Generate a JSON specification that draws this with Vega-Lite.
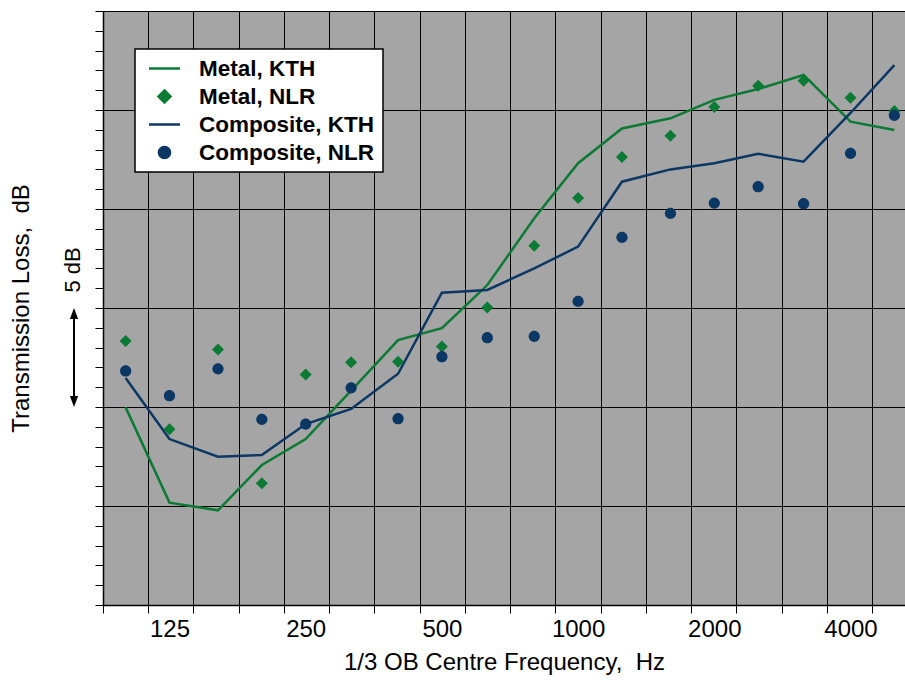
{
  "$schema": "https://vega.github.io/schema/vega-lite/v6.json",
  "width": 802,
  "height": 594,
  "autosize": "none",
  "padding": {"left": 103, "top": 11, "right": 0, "bottom": 79},
  "background": "white",
  "config": {
    "view": {"fill": "#a6a5a6", "stroke": null},
    "font": "Liberation Sans",
    "axis": {"labelFont": "Liberation Sans", "titleFont": "Liberation Sans", "labelColor": "black", "titleColor": "black", "titleFontWeight": "normal"}
  },
  "datasets": {
    "tl": [
      {"freq": 100, "series": "Metal, KTH", "tl": 9.98},
      {"freq": 125, "series": "Metal, KTH", "tl": 5.17},
      {"freq": 160, "series": "Metal, KTH", "tl": 4.78},
      {"freq": 200, "series": "Metal, KTH", "tl": 7.07},
      {"freq": 250, "series": "Metal, KTH", "tl": 8.38},
      {"freq": 315, "series": "Metal, KTH", "tl": 10.83},
      {"freq": 400, "series": "Metal, KTH", "tl": 13.38},
      {"freq": 500, "series": "Metal, KTH", "tl": 13.98},
      {"freq": 630, "series": "Metal, KTH", "tl": 16.16},
      {"freq": 800, "series": "Metal, KTH", "tl": 19.53},
      {"freq": 1000, "series": "Metal, KTH", "tl": 22.31},
      {"freq": 1250, "series": "Metal, KTH", "tl": 24.07},
      {"freq": 1600, "series": "Metal, KTH", "tl": 24.58},
      {"freq": 2000, "series": "Metal, KTH", "tl": 25.51},
      {"freq": 2500, "series": "Metal, KTH", "tl": 26.06},
      {"freq": 3150, "series": "Metal, KTH", "tl": 26.77},
      {"freq": 4000, "series": "Metal, KTH", "tl": 24.41},
      {"freq": 5000, "series": "Metal, KTH", "tl": 23.99},
      {"freq": 100, "series": "Composite, KTH", "tl": 11.46},
      {"freq": 125, "series": "Composite, KTH", "tl": 8.38},
      {"freq": 160, "series": "Composite, KTH", "tl": 7.49},
      {"freq": 200, "series": "Composite, KTH", "tl": 7.58},
      {"freq": 250, "series": "Composite, KTH", "tl": 9.14},
      {"freq": 315, "series": "Composite, KTH", "tl": 9.9},
      {"freq": 400, "series": "Composite, KTH", "tl": 11.68},
      {"freq": 500, "series": "Composite, KTH", "tl": 15.77},
      {"freq": 630, "series": "Composite, KTH", "tl": 15.91},
      {"freq": 800, "series": "Composite, KTH", "tl": 17.0},
      {"freq": 1000, "series": "Composite, KTH", "tl": 18.1},
      {"freq": 1250, "series": "Composite, KTH", "tl": 21.38},
      {"freq": 1600, "series": "Composite, KTH", "tl": 22.0},
      {"freq": 2000, "series": "Composite, KTH", "tl": 22.31},
      {"freq": 2500, "series": "Composite, KTH", "tl": 22.79},
      {"freq": 3150, "series": "Composite, KTH", "tl": 22.39},
      {"freq": 4000, "series": "Composite, KTH", "tl": 24.85},
      {"freq": 5000, "series": "Composite, KTH", "tl": 27.27},
      {"freq": 100, "series": "Metal, NLR", "tl": 13.33},
      {"freq": 125, "series": "Metal, NLR", "tl": 8.87},
      {"freq": 160, "series": "Metal, NLR", "tl": 12.91},
      {"freq": 200, "series": "Metal, NLR", "tl": 6.15},
      {"freq": 250, "series": "Metal, NLR", "tl": 11.64},
      {"freq": 315, "series": "Metal, NLR", "tl": 12.26},
      {"freq": 400, "series": "Metal, NLR", "tl": 12.29},
      {"freq": 500, "series": "Metal, NLR", "tl": 13.05},
      {"freq": 630, "series": "Metal, NLR", "tl": 15.02},
      {"freq": 800, "series": "Metal, NLR", "tl": 18.15},
      {"freq": 1000, "series": "Metal, NLR", "tl": 20.56},
      {"freq": 1250, "series": "Metal, NLR", "tl": 22.63},
      {"freq": 1600, "series": "Metal, NLR", "tl": 23.7},
      {"freq": 2000, "series": "Metal, NLR", "tl": 25.15},
      {"freq": 2500, "series": "Metal, NLR", "tl": 26.23},
      {"freq": 3150, "series": "Metal, NLR", "tl": 26.48},
      {"freq": 4000, "series": "Metal, NLR", "tl": 25.62},
      {"freq": 5000, "series": "Metal, NLR", "tl": 24.95},
      {"freq": 100, "series": "Composite, NLR", "tl": 11.82},
      {"freq": 125, "series": "Composite, NLR", "tl": 10.57},
      {"freq": 160, "series": "Composite, NLR", "tl": 11.93},
      {"freq": 200, "series": "Composite, NLR", "tl": 9.38},
      {"freq": 250, "series": "Composite, NLR", "tl": 9.14},
      {"freq": 315, "series": "Composite, NLR", "tl": 10.97},
      {"freq": 400, "series": "Composite, NLR", "tl": 9.41},
      {"freq": 500, "series": "Composite, NLR", "tl": 12.54},
      {"freq": 630, "series": "Composite, NLR", "tl": 13.5},
      {"freq": 800, "series": "Composite, NLR", "tl": 13.57},
      {"freq": 1000, "series": "Composite, NLR", "tl": 15.34},
      {"freq": 1250, "series": "Composite, NLR", "tl": 18.57},
      {"freq": 1600, "series": "Composite, NLR", "tl": 19.78},
      {"freq": 2000, "series": "Composite, NLR", "tl": 20.3},
      {"freq": 2500, "series": "Composite, NLR", "tl": 21.13},
      {"freq": 3150, "series": "Composite, NLR", "tl": 20.27},
      {"freq": 4000, "series": "Composite, NLR", "tl": 22.81},
      {"freq": 5000, "series": "Composite, NLR", "tl": 24.73}
    ]
  },
  "layer": [
    {
      "data": {"name": "tl"},
      "transform": [{"filter": "indexof(datum.series, 'KTH') >= 0"}],
      "mark": {"type": "line", "strokeWidth": 2.5},
      "encoding": {
        "x": {
          "field": "freq", "type": "quantitative",
          "scale": {"type": "log", "domain": [89.125, 5278], "nice": false},
          "axis": {
            "orient": "bottom",
            "values": [89.125, 112.2, 141.25, 177.83, 223.87, 281.84, 354.81, 446.68, 562.34, 707.95, 891.25, 1122.0, 1412.5, 1778.3, 2238.7, 2818.4, 3548.1, 4466.8],
            "labels": false, "grid": true, "gridColor": "black", "gridWidth": 1, "gridOpacity": 1,
            "ticks": true, "tickSize": 8, "tickColor": "black", "tickWidth": 1,
            "domain": true, "domainColor": "black", "domainWidth": 1.5, "title": null
          }
        },
        "y": {
          "field": "tl", "type": "quantitative",
          "scale": {"domain": [0, 30], "nice": false, "zero": false},
          "axis": {
            "values": [0,1,2,3,4,5,6,7,8,9,10,11,12,13,14,15,16,17,18,19,20,21,22,23,24,25,26,27,28,29,30],
            "labels": false, "grid": true, "gridColor": "black", "gridWidth": 1,
            "gridOpacity": {"condition": {"test": "datum.value % 5 === 0", "value": 1}, "value": 0},
            "ticks": true, "tickSize": 8, "tickColor": "black", "tickWidth": 1,
            "domain": true, "domainColor": "black", "domainWidth": 1.5,
            "title": "Transmission Loss,\u00a0\u00a0dB", "titleFontSize": 24, "titlePadding": 61
          }
        },
        "color": {
          "field": "series", "type": "nominal",
          "scale": {"domain": ["Metal, KTH", "Metal, NLR", "Composite, KTH", "Composite, NLR"], "range": ["#0a7a34", "#0a7a34", "#0a3763", "#0a3763"]},
          "legend": {
            "orient": "none", "legendX": 32, "legendY": 38, "title": null, "direction": "vertical",
            "fillColor": "white", "strokeColor": "black", "padding": 8,
            "labelFont": "Liberation Sans", "labelFontSize": 22.5, "labelFontWeight": "bold", "labelColor": "black", "labelLimit": 0,
            "rowPadding": 5, "labelOffset": 23, "symbolOffset": 10, "symbolSize": 400, "symbolStrokeWidth": 2.5, "symbolOpacity": 1,
            "encode": {
              "legend": {"update": {"strokeWidth": {"value": 1.5}}},
              "symbols": {"update": {
                "fill": {"signal": "datum.value === 'Metal, NLR' ? '#0c5a2c' : datum.value === 'Composite, NLR' ? '#101c4a' : 'transparent'"},
                "stroke": {"signal": "datum.value === 'Metal, KTH' ? '#0a7a34' : datum.value === 'Composite, KTH' ? '#0a3763' : 'transparent'"},
                "strokeWidth": {"value": 2.5},
                "opacity": {"value": 1}
              }}
            }
          }
        }
      }
    },
    {
      "data": {"name": "tl"},
      "transform": [{"filter": "indexof(datum.series, 'NLR') >= 0"}],
      "mark": {"type": "point", "filled": true, "opacity": 1, "size": 400, "strokeWidth": 0},
      "encoding": {
        "x": {
          "field": "freq", "type": "quantitative",
          "axis": {
            "orient": "bottom", "values": [125, 250, 500, 1000, 2000, 4000], "format": "d",
            "grid": false, "ticks": false, "domain": false, "labelFlush": false, "labelOverlap": false,
            "labelFontSize": 24, "labelPadding": 12,
            "title": "1/3 OB Centre Frequency,\u00a0\u00a0Hz", "titleFontSize": 24, "titlePadding": 9
          }
        },
        "y": {
          "field": "tl", "type": "quantitative",
          "axis": {
            "values": [0,1,2,3,4,5,6,7,8,9,10,11,12,13,14,15,16,17,18,19,20,21,22,23,24,25,26,27,28,29,30],
            "labels": false, "grid": true, "gridColor": "black", "gridWidth": 1,
            "gridOpacity": {"condition": {"test": "datum.value % 5 === 0", "value": 1}, "value": 0},
            "ticks": true, "tickSize": 8, "tickColor": "black", "tickWidth": 1,
            "domain": true, "domainColor": "black", "domainWidth": 1.5,
            "title": "Transmission Loss,\u00a0\u00a0dB", "titleFontSize": 24, "titlePadding": 61
          }
        },
        "color": {"field": "series", "type": "nominal"},
        "shape": {
          "field": "series", "type": "nominal",
          "scale": {"domain": ["Metal, KTH", "Metal, NLR", "Composite, KTH", "Composite, NLR"], "range": ["M-1.55,0H1.55", "M0,-0.6L0.6,0L0,0.6L-0.6,0Z", "M-1.55,0H1.55", "M0.56,0A0.56,0.56,0,1,1,-0.56,0A0.56,0.56,0,1,1,0.56,0Z"]}
        }
      }
    },
    {
      "data": {"values": [{}]},
      "mark": {"type": "rule", "color": "black", "strokeWidth": 2},
      "encoding": {
        "x": {"datum": 76.9, "type": "quantitative", "axis": null},
        "y": {
          "datum": 10.3, "type": "quantitative",
          "axis": {
            "values": [0,1,2,3,4,5,6,7,8,9,10,11,12,13,14,15,16,17,18,19,20,21,22,23,24,25,26,27,28,29,30],
            "labels": false, "grid": true, "gridColor": "black", "gridWidth": 1,
            "gridOpacity": {"condition": {"test": "datum.value % 5 === 0", "value": 1}, "value": 0},
            "ticks": true, "tickSize": 8, "tickColor": "black", "tickWidth": 1,
            "domain": true, "domainColor": "black", "domainWidth": 1.5,
            "title": "Transmission Loss,\u00a0\u00a0dB", "titleFontSize": 24, "titlePadding": 61
          }
        },
        "y2": {"datum": 14.7}
      }
    },
    {
      "data": {"values": [{}]},
      "mark": {"type": "point", "filled": true, "opacity": 1, "color": "black", "size": 121, "shape": "M0,0L-0.75,2L0.75,2Z", "strokeWidth": 0},
      "encoding": {
        "x": {"datum": 76.9, "type": "quantitative", "axis": null},
        "y": {
          "datum": 15, "type": "quantitative",
          "axis": {
            "values": [0,1,2,3,4,5,6,7,8,9,10,11,12,13,14,15,16,17,18,19,20,21,22,23,24,25,26,27,28,29,30],
            "labels": false, "grid": true, "gridColor": "black", "gridWidth": 1,
            "gridOpacity": {"condition": {"test": "datum.value % 5 === 0", "value": 1}, "value": 0},
            "ticks": true, "tickSize": 8, "tickColor": "black", "tickWidth": 1,
            "domain": true, "domainColor": "black", "domainWidth": 1.5,
            "title": "Transmission Loss,\u00a0\u00a0dB", "titleFontSize": 24, "titlePadding": 61
          }
        }
      }
    },
    {
      "data": {"values": [{}]},
      "mark": {"type": "point", "filled": true, "opacity": 1, "color": "black", "size": 121, "shape": "M0,0L-0.75,-2L0.75,-2Z", "strokeWidth": 0},
      "encoding": {
        "x": {"datum": 76.9, "type": "quantitative", "axis": null},
        "y": {
          "datum": 10, "type": "quantitative",
          "axis": {
            "values": [0,1,2,3,4,5,6,7,8,9,10,11,12,13,14,15,16,17,18,19,20,21,22,23,24,25,26,27,28,29,30],
            "labels": false, "grid": true, "gridColor": "black", "gridWidth": 1,
            "gridOpacity": {"condition": {"test": "datum.value % 5 === 0", "value": 1}, "value": 0},
            "ticks": true, "tickSize": 8, "tickColor": "black", "tickWidth": 1,
            "domain": true, "domainColor": "black", "domainWidth": 1.5,
            "title": "Transmission Loss,\u00a0\u00a0dB", "titleFontSize": 24, "titlePadding": 61
          }
        }
      }
    },
    {
      "data": {"values": [{}]},
      "mark": {"type": "text", "text": "5 dB", "angle": 270, "align": "center", "baseline": "middle", "font": "Liberation Sans", "fontSize": 22, "color": "black"},
      "encoding": {
        "x": {"datum": 76.5, "type": "quantitative", "axis": null},
        "y": {
          "datum": 16.92, "type": "quantitative",
          "axis": {
            "values": [0,1,2,3,4,5,6,7,8,9,10,11,12,13,14,15,16,17,18,19,20,21,22,23,24,25,26,27,28,29,30],
            "labels": false, "grid": true, "gridColor": "black", "gridWidth": 1,
            "gridOpacity": {"condition": {"test": "datum.value % 5 === 0", "value": 1}, "value": 0},
            "ticks": true, "tickSize": 8, "tickColor": "black", "tickWidth": 1,
            "domain": true, "domainColor": "black", "domainWidth": 1.5,
            "title": "Transmission Loss,\u00a0\u00a0dB", "titleFontSize": 24, "titlePadding": 61
          }
        }
      }
    }
  ],
  "resolve": {"axis": {"x": "independent"}}
}
